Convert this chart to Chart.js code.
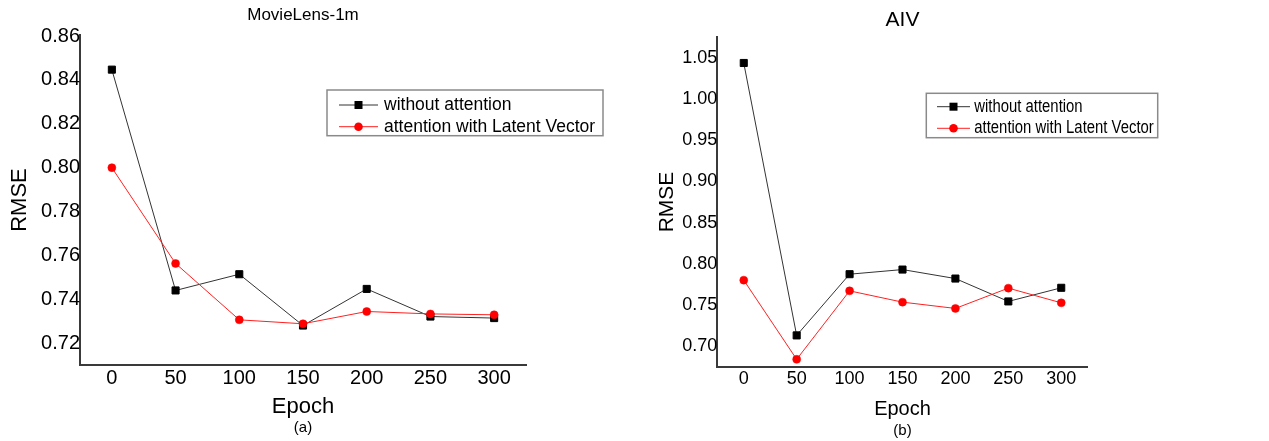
<!DOCTYPE html>
<html>
<head>
<meta charset="utf-8">
<script src="https://cdn.jsdelivr.net/npm/chart.js@4.4.0/dist/chart.umd.min.js"></script>
<style>
  body { margin: 0; background: #fff; }
  #wrap { position: relative; width: 1269px; height: 441px; }
  #c1 { position: absolute; left: 0; top: 0; }
  #c2 { position: absolute; left: 640px; top: 0; }
</style>
</head>
<body>
<div id="wrap">
  <canvas id="c1" width="640" height="441"></canvas>
  <canvas id="c2" width="629" height="441"></canvas>
</div>
<script>
// data
const epochs = [0, 50, 100, 150, 200, 250, 300]
const seriesNames = ['without attention', 'attention with Latent Vector']

const movieWithout = [0.8447, 0.744, 0.7514, 0.728, 0.7447, 0.7321, 0.7314]
const movieLatent = [0.800, 0.7563, 0.7306, 0.7288, 0.7344, 0.7333, 0.7329]
const movieYTicks = [0.72, 0.74, 0.76, 0.78, 0.80, 0.82, 0.84, 0.86]

const aivWithout = [1.0435, 0.7133, 0.7875, 0.7931, 0.7822, 0.7545, 0.771]
const aivLatent = [0.7803, 0.6843, 0.7673, 0.7536, 0.746, 0.7706, 0.7528]
const aivYTicks = [0.70, 0.75, 0.80, 0.85, 0.90, 0.95, 1.00, 1.05]

const FONT = '"Liberation Sans", Arial, sans-serif'
const AXIS = '#3a3a3a'

// legend box drawn inside the plot, like the original figure
const boxLegend = {
    id: 'boxLegend',
    afterDraw(chart, args, o) {
        const ctx = chart.ctx
        ctx.save()
        ctx.strokeStyle = '#8a8a8a'
        ctx.lineWidth = 1.5
        ctx.strokeRect(o.x, o.y, o.w, o.h)
        chart.data.datasets.forEach((ds, i) => {
            const y = o.rows[i]
            const mx = (o.lineX[0] + o.lineX[1]) / 2
            ctx.strokeStyle = ds.borderColor
            ctx.lineWidth = 1
            ctx.beginPath()
            ctx.moveTo(o.lineX[0], y)
            ctx.lineTo(o.lineX[1], y)
            ctx.stroke()
            ctx.fillStyle = ds.pointBackgroundColor
            if (ds.pointStyle === 'rect') {
                ctx.fillRect(mx - 4, y - 4, 8, 8)
            } else {
                ctx.beginPath()
                ctx.arc(mx, y, 4.3, 0, Math.PI * 2)
                ctx.fill()
            }
            ctx.save()
            ctx.translate(o.textX, y)
            ctx.scale(o.squeeze, 1)
            ctx.fillStyle = '#000'
            ctx.font = o.font
            ctx.textBaseline = 'middle'
            ctx.fillText(ds.label, 0, 0)
            ctx.restore()
        })
        ctx.restore()
    }
}

function makeChart(id, s) {
    const ctx = document.getElementById(id).getContext('2d')
    return new Chart(ctx, {
        type: 'line',
        data: {
            datasets: [{
                label: seriesNames[0],
                data: epochs.map((e, i) => ({ x: e, y: s.without[i] })),
                borderColor: '#333',
                borderWidth: 1,
                pointStyle: 'rect',
                pointRadius: 5,
                pointBorderWidth: 1,
                pointBackgroundColor: '#000',
                pointBorderColor: '#000',
                order: 1
            }, {
                label: seriesNames[1],
                data: epochs.map((e, i) => ({ x: e, y: s.latent[i] })),
                borderColor: '#ff2020',
                borderWidth: 1,
                pointStyle: 'circle',
                pointRadius: 4,
                pointBorderWidth: 0.5,
                pointBackgroundColor: '#ff0000',
                pointBorderColor: '#ff0000',
                order: 0
            }]
        },
        options: {
            responsive: false,
            animation: false,
            layout: { padding: { left: 0, right: s.padRight, top: 0, bottom: 0 } },
            plugins: {
                legend: { display: false },
                tooltip: { enabled: false },
                title: {
                    display: true,
                    text: s.title,
                    fullSize: false,
                    color: '#000',
                    font: { family: FONT, size: s.titleSize, weight: 'normal', lineHeight: 1.2 },
                    padding: s.titlePad
                },
                subtitle: {
                    display: true,
                    text: s.sub,
                    position: 'bottom',
                    fullSize: false,
                    color: '#000',
                    font: { family: FONT, size: 15, weight: 'normal', lineHeight: 1.2 },
                    padding: s.subPad
                },
                boxLegend: s.legend
            },
            scales: {
                x: {
                    type: 'linear',
                    min: -25,
                    max: 325,
                    afterBuildTicks: sc => { sc.ticks = epochs.map(v => ({ value: v })) },
                    afterFit: sc => { sc.height = s.xHeight },
                    grid: { display: false, drawTicks: false },
                    border: { display: true, color: AXIS, width: 2 },
                    ticks: {
                        color: '#000',
                        padding: 1,
                        font: { family: FONT, size: s.tickSize },
                        maxRotation: 0,
                        callback: v => String(v)
                    },
                    title: {
                        display: true,
                        text: 'Epoch',
                        color: '#000',
                        font: { family: FONT, size: s.epochSize, lineHeight: 1 },
                        padding: { top: 0, bottom: s.epochPad }
                    }
                },
                y: {
                    min: s.yMin,
                    max: s.yMax,
                    afterBuildTicks: sc => { sc.ticks = s.yTicks.map(v => ({ value: v })) },
                    afterFit: sc => { sc.width = s.yWidth },
                    grid: { display: false, drawTicks: false },
                    border: { display: true, color: AXIS, width: 2 },
                    ticks: {
                        color: '#000',
                        padding: 0,
                        font: { family: FONT, size: s.tickSize },
                        callback: v => v.toFixed(2)
                    },
                    title: {
                        display: true,
                        text: 'RMSE',
                        color: '#000',
                        font: { family: FONT, size: s.rmseSize, lineHeight: 1 },
                        padding: { top: s.rmsePad, bottom: 0 }
                    }
                }
            }
        },
        plugins: [boxLegend]
    })
}

makeChart('c1', {
    title: 'MovieLens-1m', sub: '(a)',
    without: movieWithout, latent: movieLatent,
    yMin: 0.710, yMax: 0.8605, yTicks: movieYTicks,
    padRight: 114, yWidth: 80, xHeight: 54,
    titleSize: 17, titlePad: { top: 5, bottom: 9.6 },
    subPad: { top: 0, bottom: 4 },
    tickSize: 20, epochSize: 22, epochPad: 1, rmseSize: 22, rmsePad: 9,
    legend: { x: 327, y: 90, w: 276, h: 45.7, rows: [105, 126.7], lineX: [339, 378], textX: 384, font: '17.5px ' + FONT, squeeze: 1 }
})

makeChart('c2', {
    title: 'AIV', sub: '(b)',
    without: aivWithout, latent: aivLatent,
    yMin: 0.675, yMax: 1.075, yTicks: aivYTicks,
    padRight: 181.3, yWidth: 77.3, xHeight: 55,
    titleSize: 21, titlePad: { top: 7.5, bottom: 4.3 },
    subPad: { top: 0, bottom: 1 },
    tickSize: 18, epochSize: 20, epochPad: 3, rmseSize: 21, rmsePad: 17,
    legend: { x: 286.3, y: 93.3, w: 231.4, h: 44.4, rows: [106.7, 128.3], lineX: [297, 330], textX: 334.3, font: '17.5px ' + FONT, squeeze: 0.85 }
})
</script>
</body>
</html>
